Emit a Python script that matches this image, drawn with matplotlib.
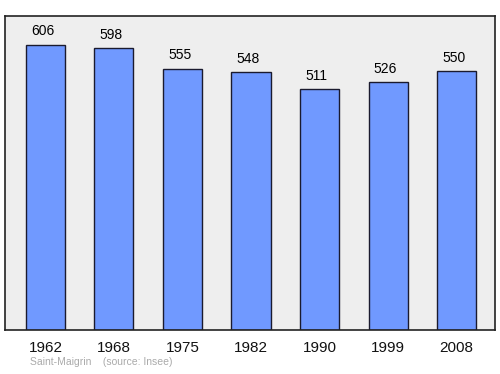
import matplotlib
matplotlib.use("Agg")
import matplotlib.pyplot as plt

# Population data
years = ["1962", "1968", "1975", "1982", "1990", "1999", "2008"]
population = [606, 598, 555, 548, 511, 526, 550]

plt.rcParams['font.family'] = ['Liberation Sans', 'DejaVu Sans']

fig = plt.figure(figsize=(5, 3.74), dpi=100)
ax = fig.add_axes([0.01, 0.1176, 0.98, 0.8395])
ax.set_facecolor('#eeeeee')

x = range(len(years))
ax.bar(x, population, width=0.57, color='#7099ff', edgecolor='#1a1a2e', linewidth=1)

for xi, v in zip(x, population):
    ax.annotate(str(v), (xi, v), xytext=(-2, 4.5), textcoords='offset points',
                ha='center', va='bottom', fontsize=10)

ax.set_xlim(-0.59, 6.56)
ax.set_ylim(0, max(population) * 1.1)
ax.set_yticks([])
ax.set_xticks(list(x))
ax.set_xticklabels(years, fontsize=11, color='#111111')
ax.tick_params(axis='x', length=0, pad=8)
for s in ax.spines.values():
    s.set_linewidth(1.2)
    s.set_color('#222222')

fig.text(0.06, 0.024, "Saint-Maigrin    (source: Insee)", fontsize=7.5, color='#aaaaaa')

fig.savefig("out.png", dpi=100)
